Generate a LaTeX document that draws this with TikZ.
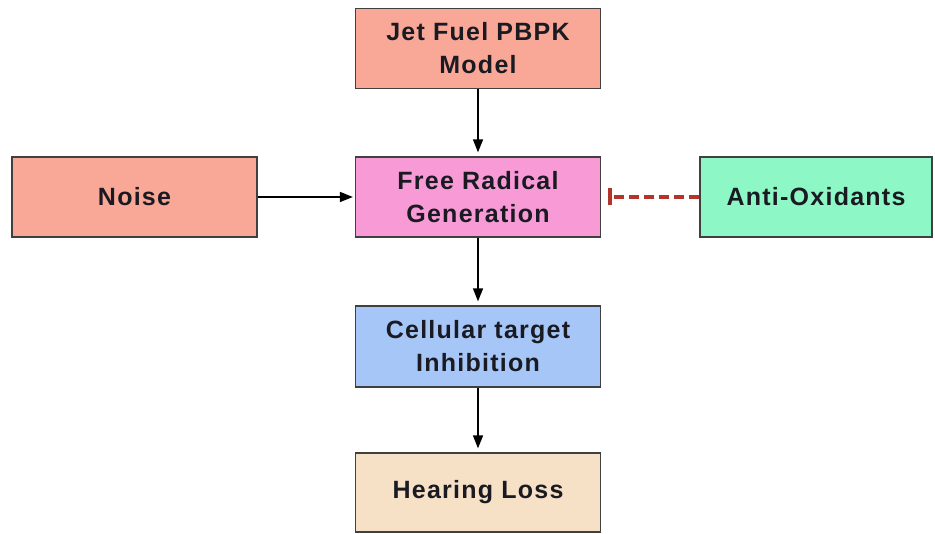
\documentclass[tikz,border=0pt]{standalone}
\usepackage{fontspec}
\setmainfont{Liberation Sans}[LetterSpace=5]
\usetikzlibrary{arrows.meta}
\definecolor{salmon}{HTML}{F9A898}
\definecolor{pinkb}{HTML}{F79AD6}
\definecolor{mint}{HTML}{8DF8C6}
\definecolor{blueb}{HTML}{A6C6F8}
\definecolor{bisque}{HTML}{F6E0C6}
\definecolor{txt}{HTML}{1A1A22}
\definecolor{inhib}{HTML}{B5342A}
\tikzset{
  box/.style={draw=black!75, line width=1.2pt, minimum width=245pt, minimum height=80pt,
    inner sep=0pt, align=center, text=txt,
    font=\fontsize{25}{33}\selectfont\bfseries},
  conn/.style={draw=black, line width=1.4pt, -{Triangle[length=13pt,width=10pt]}},
  block/.style={draw=inhib, line width=3.6pt, dash pattern=on 10pt off 5pt,
    -{Bar[width=17pt,line width=3.6pt]}, shorten >=7pt}
}
\begin{document}
\begin{tikzpicture}[x=1pt,y=-1pt]
\useasboundingbox (0,0) rectangle (935,534);
\node[box, fill=salmon] (jet) at (478,48.5) {Jet Fuel PBPK\\Model};
\node[box, fill=salmon] (noise) at (134.5,197) {Noise};
\node[box, fill=pinkb] (frg) at (478,197) {Free Radical\\Generation};
\node[box, fill=mint, minimum width=232pt] (ao) at (816,197) {Anti-Oxidants};
\node[box, fill=blueb, minimum height=81pt] (cell) at (478,346.5) {Cellular target\\Inhibition};
\node[box, fill=bisque, minimum height=79pt] (hl) at (478,492.5) {Hearing Loss};
\draw[conn, shorten >=4pt] (jet) -- (frg);
\draw[conn, shorten >=2pt] (noise) -- (frg);
\draw[conn, shorten >=4pt] (frg) -- (cell);
\draw[conn, shorten >=4pt] (cell) -- (hl);
\draw[block] (ao) -- (frg);
\end{tikzpicture}
\end{document}
